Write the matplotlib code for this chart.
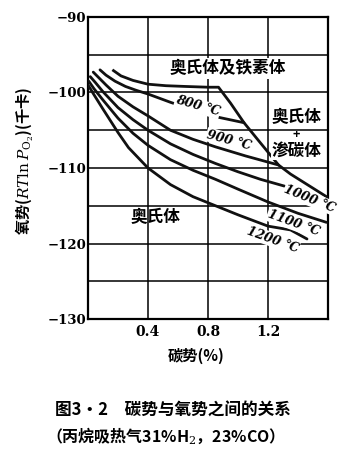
import numpy as np
import matplotlib
matplotlib.use("Agg")
import matplotlib.pyplot as plt

plt.rcParams['font.family'] = ['Noto Sans CJK SC', 'DejaVu Sans']
plt.rcParams['mathtext.fontset'] = 'dejavuserif'

# ---------------- data ----------------
# phase boundary: austenite+ferrite (top) / austenite+cementite (right)
boundary_x = [0.17, 0.22, 0.30, 0.40, 0.52, 0.65, 0.80, 0.87, 0.95, 1.04, 1.13, 1.27, 1.35, 1.43, 1.59]
boundary_y = [-97.1, -97.8, -98.4, -98.9, -99.1, -99.2, -99.3, -99.3, -101.4, -104.0, -106.2, -109.6, -110.8, -111.8, -113.8]

t800_x = [0.08, 0.12, 0.18, 0.25, 0.32, 0.40, 0.55, 0.70, 0.85, 1.04]
t800_y = [-97.0, -97.7, -98.5, -99.2, -99.7, -100.2, -101.3, -102.3, -103.2, -104.0]

t900_x = [0.035, 0.07, 0.12, 0.20, 0.30, 0.40, 0.55, 0.70, 0.85, 1.05, 1.27]
t900_y = [-97.3, -98.0, -99.0, -100.5, -101.9, -103.1, -105.0, -106.2, -107.2, -108.4, -109.6]

t1000_x = [0.015, 0.05, 0.10, 0.20, 0.30, 0.40, 0.55, 0.70, 0.85, 1.00, 1.15, 1.31]
t1000_y = [-97.9, -98.7, -99.9, -102.0, -103.6, -105.0, -106.8, -108.2, -109.4, -110.5, -111.5, -112.4]

t1100_x = [0.005, 0.04, 0.10, 0.20, 0.30, 0.40, 0.55, 0.70, 0.85, 1.00, 1.20, 1.40, 1.59]
t1100_y = [-98.5, -99.5, -101.0, -103.4, -105.4, -107.0, -108.9, -110.3, -111.5, -112.8, -114.5, -116.0, -117.2]

t1200_x = [0.0, 0.04, 0.10, 0.20, 0.27, 0.40, 0.55, 0.70, 0.85, 1.00, 1.20, 1.35, 1.46]
t1200_y = [-99.0, -100.3, -102.2, -105.3, -107.3, -110.0, -112.2, -113.8, -115.0, -116.2, -117.7, -118.2, -119.4]

curve_labels = ["800 ℃", "900 ℃", "1000 ℃", "1100 ℃", "1200 ℃"]
label_pos = [(0.73, -101.8, -16), (0.94, -106.3, -15), (1.48, -114.1, -22),
             (1.37, -117.3, -20), (1.23, -119.5, -20)]

xticks = [0.4, 0.8, 1.2]
xticklabels = ["0.4", "0.8", "1.2"]
yticks = [-90, -100, -110, -120, -130]
yticklabels = ["−90", "−100", "−110", "−120", "−130"]
yminor = [-95, -105, -115, -125]

region_ferrite = "奥氏体及铁素体"
region_cementite = ["奥氏体", "+", "渗碳体"]
region_austenite = "奥氏体"

# ---------------- figure ----------------
W, H = 358, 461
fig = plt.figure(figsize=(W / 100, H / 100), dpi=100)
ax = fig.add_axes([88 / W, 1 - 319 / H, 240 / W, 302 / H])
ax.set_xlim(0, 1.6)
ax.set_ylim(-130, -90)

ax.set_xticks(xticks)
ax.set_xticklabels(xticklabels, fontfamily='DejaVu Serif', fontsize=10, fontweight='bold')
ax.set_yticks(yticks)
ax.set_yticklabels(yticklabels, fontfamily='DejaVu Serif', fontsize=9.5, fontweight='bold')
ax.set_yticks(yminor, minor=True)
ax.tick_params(axis='both', which='both', length=0)
ax.tick_params(axis='x', pad=4)
ax.tick_params(axis='y', pad=1)
ax.grid(which='both', color='black', lw=1.1)
ax.set_axisbelow(True)
for s in ax.spines.values():
    s.set_linewidth(1.6)

lw = 2.0
ax.plot(boundary_x, boundary_y, color='#111111', lw=lw, zorder=3, solid_joinstyle='round')
for xs, ys in [(t800_x, t800_y), (t900_x, t900_y), (t1000_x, t1000_y),
               (t1100_x, t1100_y), (t1200_x, t1200_y)]:
    ax.plot(xs, ys, color='#111111', lw=lw, zorder=3, solid_capstyle='round')

for txt, (x, y, r) in zip(curve_labels, label_pos):
    ax.text(x, y, txt, rotation=r, ha='center', va='center', fontsize=9,
            family=['DejaVu Serif', 'DejaVu Sans'], style='italic', fontweight='bold',
            zorder=5, clip_on=False,
            bbox=dict(boxstyle='square,pad=0.05', fc='white', ec='none'))

ax.text(0.93, -96.8, region_ferrite, ha='center', va='center', fontsize=12,
        fontweight='bold', zorder=5,
        bbox=dict(boxstyle='square,pad=0.1', fc='white', ec='none'))
ax.text(1.39, -103.3, region_cementite[0], ha='center', va='center', fontsize=12,
        fontweight='bold', zorder=5,
        bbox=dict(boxstyle='square,pad=0.05', fc='white', ec='none'))
ax.text(1.39, -105.5, region_cementite[1], ha='center', va='center', fontsize=9,
        fontweight='bold', zorder=5)
ax.text(1.39, -107.7, region_cementite[2], ha='center', va='center', fontsize=12,
        fontweight='bold', zorder=5,
        bbox=dict(boxstyle='square,pad=0.05', fc='white', ec='none'))
ax.text(0.45, -116.5, region_austenite, ha='center', va='center', fontsize=12,
        fontweight='bold', zorder=5)

# axis titles
fig.text(196 / W, 1 - 356 / H, "碳势(%)", ha='center', va='center', fontsize=11,
         fontweight='bold')
fig.text(25 / W, 1 - 161 / H, r"氧势($RT\ln P_{\mathrm{O}_2}$)(千卡)", ha='center', va='center',
         rotation=90, fontsize=11, fontweight='bold')

# caption
fig.text(55 / W, 1 - 411 / H, "图3·2　碳势与氧势之间的关系", ha='left', va='center',
         fontsize=12, fontweight='bold')
fig.text(46 / W, 1 - 436 / H, "（丙烷吸热气31%H$_2$，23%CO）", ha='left', va='center',
         fontsize=11.5, fontweight='bold')

fig.savefig("out.png", dpi=100)
